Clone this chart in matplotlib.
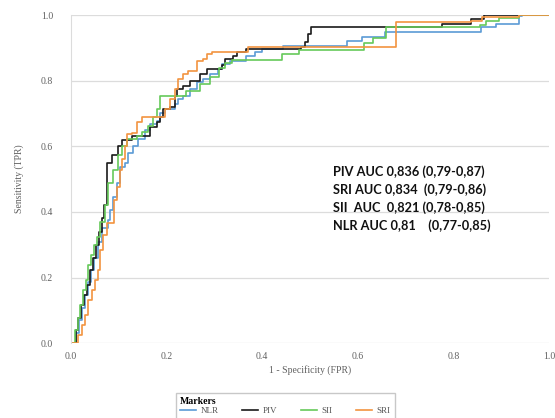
import matplotlib
matplotlib.use('Agg')
import matplotlib.pyplot as plt
from matplotlib.lines import Line2D

# ROC curves (FPR, TPR)
nlr_fpr = [0, 0.01, 0.017, 0.023, 0.029, 0.035, 0.042, 0.048, 0.056, 0.065, 0.077, 0.081, 0.088,
           0.096, 0.102, 0.113, 0.119, 0.129, 0.14, 0.154, 0.165, 0.18, 0.186, 0.196, 0.217, 0.223,
           0.234, 0.248, 0.263, 0.276, 0.29, 0.307, 0.315, 0.332, 0.367, 0.384, 0.399, 0.443, 0.578,
           0.608, 0.656, 0.858, 0.889, 0.937, 0.944, 1.0]
nlr_tpr = [0, 0.03, 0.07, 0.107, 0.147, 0.187, 0.223, 0.26, 0.309, 0.352, 0.376, 0.407, 0.446,
           0.489, 0.538, 0.55, 0.581, 0.60, 0.621, 0.651, 0.667, 0.676, 0.703, 0.713, 0.728, 0.743,
           0.752, 0.774, 0.795, 0.804, 0.82, 0.835, 0.85, 0.859, 0.875, 0.887, 0.896, 0.905, 0.92,
           0.933, 0.948, 0.963, 0.972, 0.997, 1.0, 1.0]

piv_fpr = [0, 0.01, 0.015, 0.021, 0.027, 0.033, 0.040, 0.046, 0.052, 0.058, 0.065, 0.069, 0.075,
           0.075, 0.086, 0.098, 0.106, 0.127, 0.165, 0.18, 0.186, 0.192, 0.207, 0.217, 0.221, 0.234,
           0.248, 0.269, 0.284, 0.315, 0.322, 0.338, 0.347, 0.367, 0.482, 0.489, 0.495, 0.503, 0.777,
           0.837, 0.864, 1.0]
piv_tpr = [0, 0.04, 0.076, 0.116, 0.147, 0.177, 0.223, 0.26, 0.30, 0.34, 0.38, 0.42, 0.468,
           0.55, 0.575, 0.60, 0.62, 0.63, 0.66, 0.673, 0.69, 0.713, 0.72, 0.752, 0.774, 0.783,
           0.80, 0.82, 0.835, 0.847, 0.865, 0.875, 0.887, 0.896, 0.902, 0.917, 0.942, 0.963, 0.972,
           0.988, 1.0, 1.0]

sii_fpr = [0, 0.008, 0.015, 0.019, 0.025, 0.031, 0.035, 0.042, 0.048, 0.054, 0.061, 0.071, 0.077,
           0.088, 0.098, 0.106, 0.117, 0.138, 0.148, 0.161, 0.171, 0.18, 0.186, 0.24, 0.27, 0.29,
           0.31, 0.322, 0.336, 0.442, 0.478, 0.614, 0.631, 0.660, 0.856, 0.868, 0.896, 0.937, 1.0]
sii_tpr = [0, 0.04, 0.076, 0.116, 0.162, 0.193, 0.239, 0.269, 0.30, 0.324, 0.37, 0.422, 0.489,
           0.529, 0.575, 0.60, 0.621, 0.63, 0.645, 0.661, 0.688, 0.713, 0.752, 0.77, 0.79, 0.81,
           0.84, 0.855, 0.862, 0.88, 0.895, 0.915, 0.93, 0.963, 0.97, 0.982, 0.991, 1.0, 1.0]

sri_fpr = [0, 0.015, 0.023, 0.029, 0.035, 0.044, 0.05, 0.056, 0.061, 0.067, 0.075, 0.088, 0.09,
           0.096, 0.102, 0.106, 0.113, 0.117, 0.127, 0.138, 0.148, 0.186, 0.196, 0.207, 0.217,
           0.223, 0.234, 0.244, 0.263, 0.276, 0.284, 0.296, 0.37, 0.68, 0.837, 0.86, 0.937, 1.0]
sri_tpr = [0, 0.024, 0.055, 0.086, 0.131, 0.162, 0.193, 0.223, 0.284, 0.33, 0.367, 0.367, 0.437,
           0.477, 0.529, 0.56, 0.60, 0.636, 0.642, 0.673, 0.688, 0.688, 0.713, 0.743, 0.774,
           0.804, 0.82, 0.829, 0.859, 0.865, 0.881, 0.887, 0.902, 0.979, 0.982, 0.994, 1.0, 1.0]

markers = ['NLR', 'PIV', 'SII', 'SRI']
colors = ['#5B9BD5', '#1a1a1a', '#66C95A', '#F29440']
auc_lines = ['PIV AUC 0,836 (0,79-0,87)',
             'SRI AUC 0,834  (0,79-0,86)',
             'SII  AUC  0,821 (0,78-0,85)',
             'NLR AUC 0,81    (0,77-0,85)']

serif = ['Liberation Serif', 'DejaVu Serif']

fig = plt.figure(figsize=(5.55, 4.18), dpi=100)
ax = fig.add_axes([0.128, 0.179, 0.861, 0.785])

curves = [(nlr_fpr, nlr_tpr), (piv_fpr, piv_tpr), (sii_fpr, sii_tpr), (sri_fpr, sri_tpr)]
for (x, y), c, name in zip(curves, colors, markers):
    ax.plot(x, y, drawstyle='steps-post', color=c, lw=1.2, label=name)

ticks = [0, 0.2, 0.4, 0.6, 0.8, 1.0]
tick_labels = ['0.0', '0.2', '0.4', '0.6', '0.8', '1.0']
ax.set_xlim(0, 1.0)
ax.set_ylim(0, 1.0)
ax.set_xticks(ticks)
ax.set_yticks(ticks)
ax.set_xticklabels(tick_labels)
ax.set_yticklabels(tick_labels)
ax.yaxis.grid(True, color='#DCDCDC', lw=0.9)
ax.set_axisbelow(True)
for s in ['top', 'right', 'bottom']:
    ax.spines[s].set_visible(False)
ax.spines['left'].set_color('#DCDCDC')
ax.tick_params(length=0, labelsize=7, labelcolor='#606060')
ax.tick_params(axis='y', pad=13)
ax.tick_params(axis='x', pad=6)
for lab in ax.get_xticklabels() + ax.get_yticklabels():
    lab.set_family(serif)

ax.set_xlabel('1 - Specificity (FPR)', fontsize=7, color='#606060', family=serif, labelpad=3)
ax.set_ylabel('Sensitivity (TPR)', fontsize=7, color='#606060', family=serif, labelpad=12)

for i, t in enumerate(auc_lines):
    fig.text(333 / 555, 1 - (172 + 18 * i) / 418, t, fontsize=9.2, fontweight='bold',
             family=['Lato', 'DejaVu Sans'], va='center', ha='left', color='#111111')

handles = [Line2D([0], [0], color=c, lw=1.2) for c in colors]
leg = fig.legend(handles, markers, loc='upper left', bbox_to_anchor=(171 / 555, 1 - 388 / 418),
                 ncol=4, title='Markers', alignment='left', fancybox=False, frameon=True,
                 edgecolor='#BBBBBB', prop={'family': serif, 'size': 6.5},
                 handlelength=1.8, columnspacing=2.6, borderpad=0.45, handletextpad=0.5)
leg.get_title().set_fontsize(7)
leg.get_title().set_fontweight('bold')
leg.get_title().set_family(serif)
leg._legend_box.sep = 1
for t in leg.get_texts():
    t.set_color('#555555')

fig.savefig('out.png', dpi=100)
